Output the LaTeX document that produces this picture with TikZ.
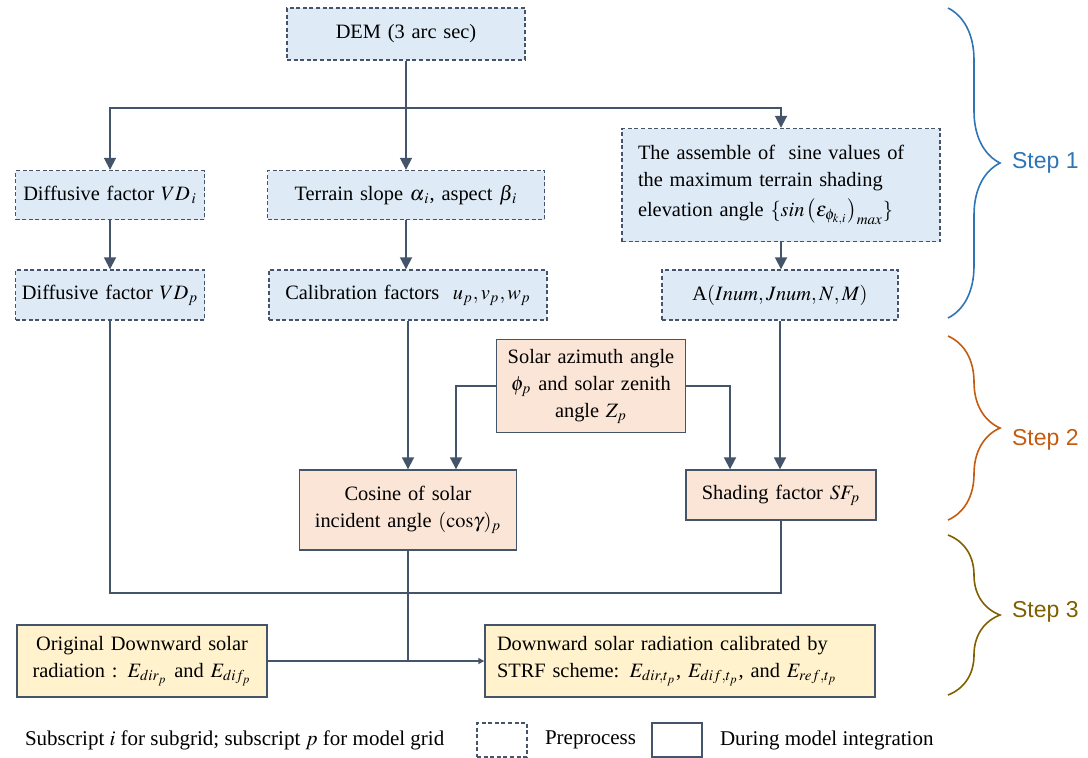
\documentclass[tikz,border=0pt]{standalone}
\usepackage{mathptmx}
\usepackage{fontspec}
\setmainfont{Liberation Serif}
\newfontfamily\stepfont{Liberation Sans}
\usetikzlibrary{arrows.meta,decorations.pathreplacing}

\definecolor{edgeslate}{HTML}{44546A}
\definecolor{prefill}{HTML}{DEEBF7}
\definecolor{runfill}{HTML}{FBE5D6}
\definecolor{radfill}{HTML}{FFF2CC}
\definecolor{stepone}{HTML}{2E75B6}
\definecolor{steptwo}{HTML}{C55A11}
\definecolor{stepthree}{HTML}{7F6000}

\hyphenpenalty=10000
\exhyphenpenalty=10000

\begin{document}
\begin{tikzpicture}[
    x=0.5pt, y=-0.5pt,
    basebox/.style={draw=edgeslate, line width=0.7pt, inner sep=2pt, align=center,
        font=\fontsize{10.2}{13.5}\selectfont},
    prebox/.style={basebox, fill=prefill, dash pattern=on 2pt off 1.3pt},
    runbox/.style={basebox, fill=runfill},
    radbox/.style={basebox, fill=radfill},
    flow/.style={edgeslate, line width=0.9pt, -{Triangle[width=6pt,length=6pt]}},
    link/.style={edgeslate, line width=0.9pt},
    smallflow/.style={edgeslate, line width=0.9pt, -{Triangle[width=3pt,length=3pt]}},
    stepbrace/.style={decorate, decoration={brace, amplitude=26pt}, line width=0.8pt},
    steplabel/.style={anchor=west, font=\stepfont\fontsize{11.5}{13}\selectfont},
    legendtext/.style={anchor=west, font=\fontsize{10.5}{13}\selectfont},
]
\useasboundingbox (0,0) rectangle (1088,757);

% ── Preprocess boxes ────────────────────────────────────────
\node[prebox, text width=115pt, minimum height=26pt] (dem) at (406,34) {DEM (3 arc sec)};

\node[prebox, text width=92pt, inner xsep=1.25pt, minimum height=24.5pt] (vdi) at (110,195)
    {Diffusive factor $VD_{\,i}$};
\node[prebox, text width=134.5pt, minimum height=24.5pt] (terrain) at (406,195)
    {Terrain slope $\alpha_{\,i}$, aspect $\beta_{\,i}$};
\node[prebox, text width=143pt, inner xsep=8pt, align=left, minimum height=56.5pt]
    (assemble) at (781,185)
    {The assemble of \ sine values of\\
     the maximum terrain shading\\[1.5pt]
     elevation angle $\{sin\,\bigl(\varepsilon_{\phi_{k,i}}\bigr)_{max}\}$};

\node[prebox, text width=92pt, inner xsep=1.25pt, minimum height=25pt] (vdp) at (110,295)
    {Diffusive factor $VD_p$};
\node[prebox, text width=135pt, minimum height=25pt] (calib) at (408,295)
    {Calibration factors \ $u_p, v_p, w_p$};
\node[prebox, text width=114pt, minimum height=25pt] (amat) at (780,295)
    {A$(Inum, Jnum, N, M)$};

% ── Model integration boxes ─────────────────────────────────
\node[runbox, text width=90.5pt, minimum height=46.5pt] (solar) at (591,386)
    {Solar azimuth angle\\ $\phi_p$ and solar zenith\\ angle $Z_p$};
\node[runbox, text width=104.5pt, minimum height=40pt] (cosine) at (408,510)
    {Cosine of solar\\ incident angle $(\mathrm{cos}\gamma)_p$};
\node[runbox, text width=91pt, minimum height=25pt] (shading) at (781,495)
    {Shading factor $SF_p$};

\node[radbox, text width=121pt, minimum height=36pt] (orig) at (142,661)
    {Original Downward solar\\ radiation : $E_{dir_p}$ and $E_{dif_p}$};
\node[radbox, text width=183pt, inner xsep=6pt, align=left, minimum height=36pt]
    (final) at (680,661)
    {Downward solar radiation calibrated by\\
     STRF scheme: $E_{dir,t_p}$, $E_{dif,t_p}$, and $E_{ref,t_p}$};

% ── Connectors ──────────────────────────────────────────────
\coordinate (split) at (406,108);
\draw[link] (dem) -- (split);
\draw[flow] (split) -- (terrain);
\draw[flow] (split) -| (vdi);
\draw[flow] (split) -| (assemble);

\draw[flow] (vdi) -- (vdp);
\draw[flow] (terrain) -- (calib.north -| terrain);
\draw[flow] (assemble) -- (amat.north -| assemble);

\draw[flow] (calib) -- (cosine);
\draw[flow] (amat.south) -- (amat.south |- shading.north);
\draw[flow] (solar.west) -| ([xshift=24pt]cosine.north);
\draw[flow] (solar.east) -| ([xshift=-25.5pt]shading.north);

\coordinate (merge) at (408,593);
\coordinate (join) at (408,661);
\draw[link] (vdp.south) |- (merge);
\draw[link] (shading.south) |- (merge);
\draw[link] (cosine.south) -- (join);
\draw[smallflow] (orig.east) -- (final.west);

% ── Step braces ─────────────────────────────────────────────
\draw[stepbrace, stepone] (948,8) -- (948,318);
\node[steplabel, stepone] (stepa) at (1005,163) {Step 1};
\draw[stepbrace, steptwo] (948,336) -- (948,520);
\node[steplabel, steptwo] (stepb) at (1005,440) {Step 2};
\draw[stepbrace, stepthree] (948,535) -- (948,695);
\node[steplabel, stepthree] (stepc) at (1005,612) {Step 3};

% ── Legend ──────────────────────────────────────────────────
\node[legendtext] (note) at (18,740) {Subscript $i$ for subgrid; subscript $p$ for model grid};
\node[draw=edgeslate, line width=0.7pt, dash pattern=on 2pt off 1.3pt,
    minimum width=25pt, minimum height=17pt, inner sep=0pt] (keypre) at (502,740) {};
\node[legendtext] (labpre) at (538,740) {Preprocess};
\node[draw=edgeslate, line width=0.7pt, minimum width=25pt, minimum height=17pt,
    inner sep=0pt] (keyrun) at (677,740) {};
\node[legendtext] (labrun) at (713,740) {During model integration};

\end{tikzpicture}
\end{document}
